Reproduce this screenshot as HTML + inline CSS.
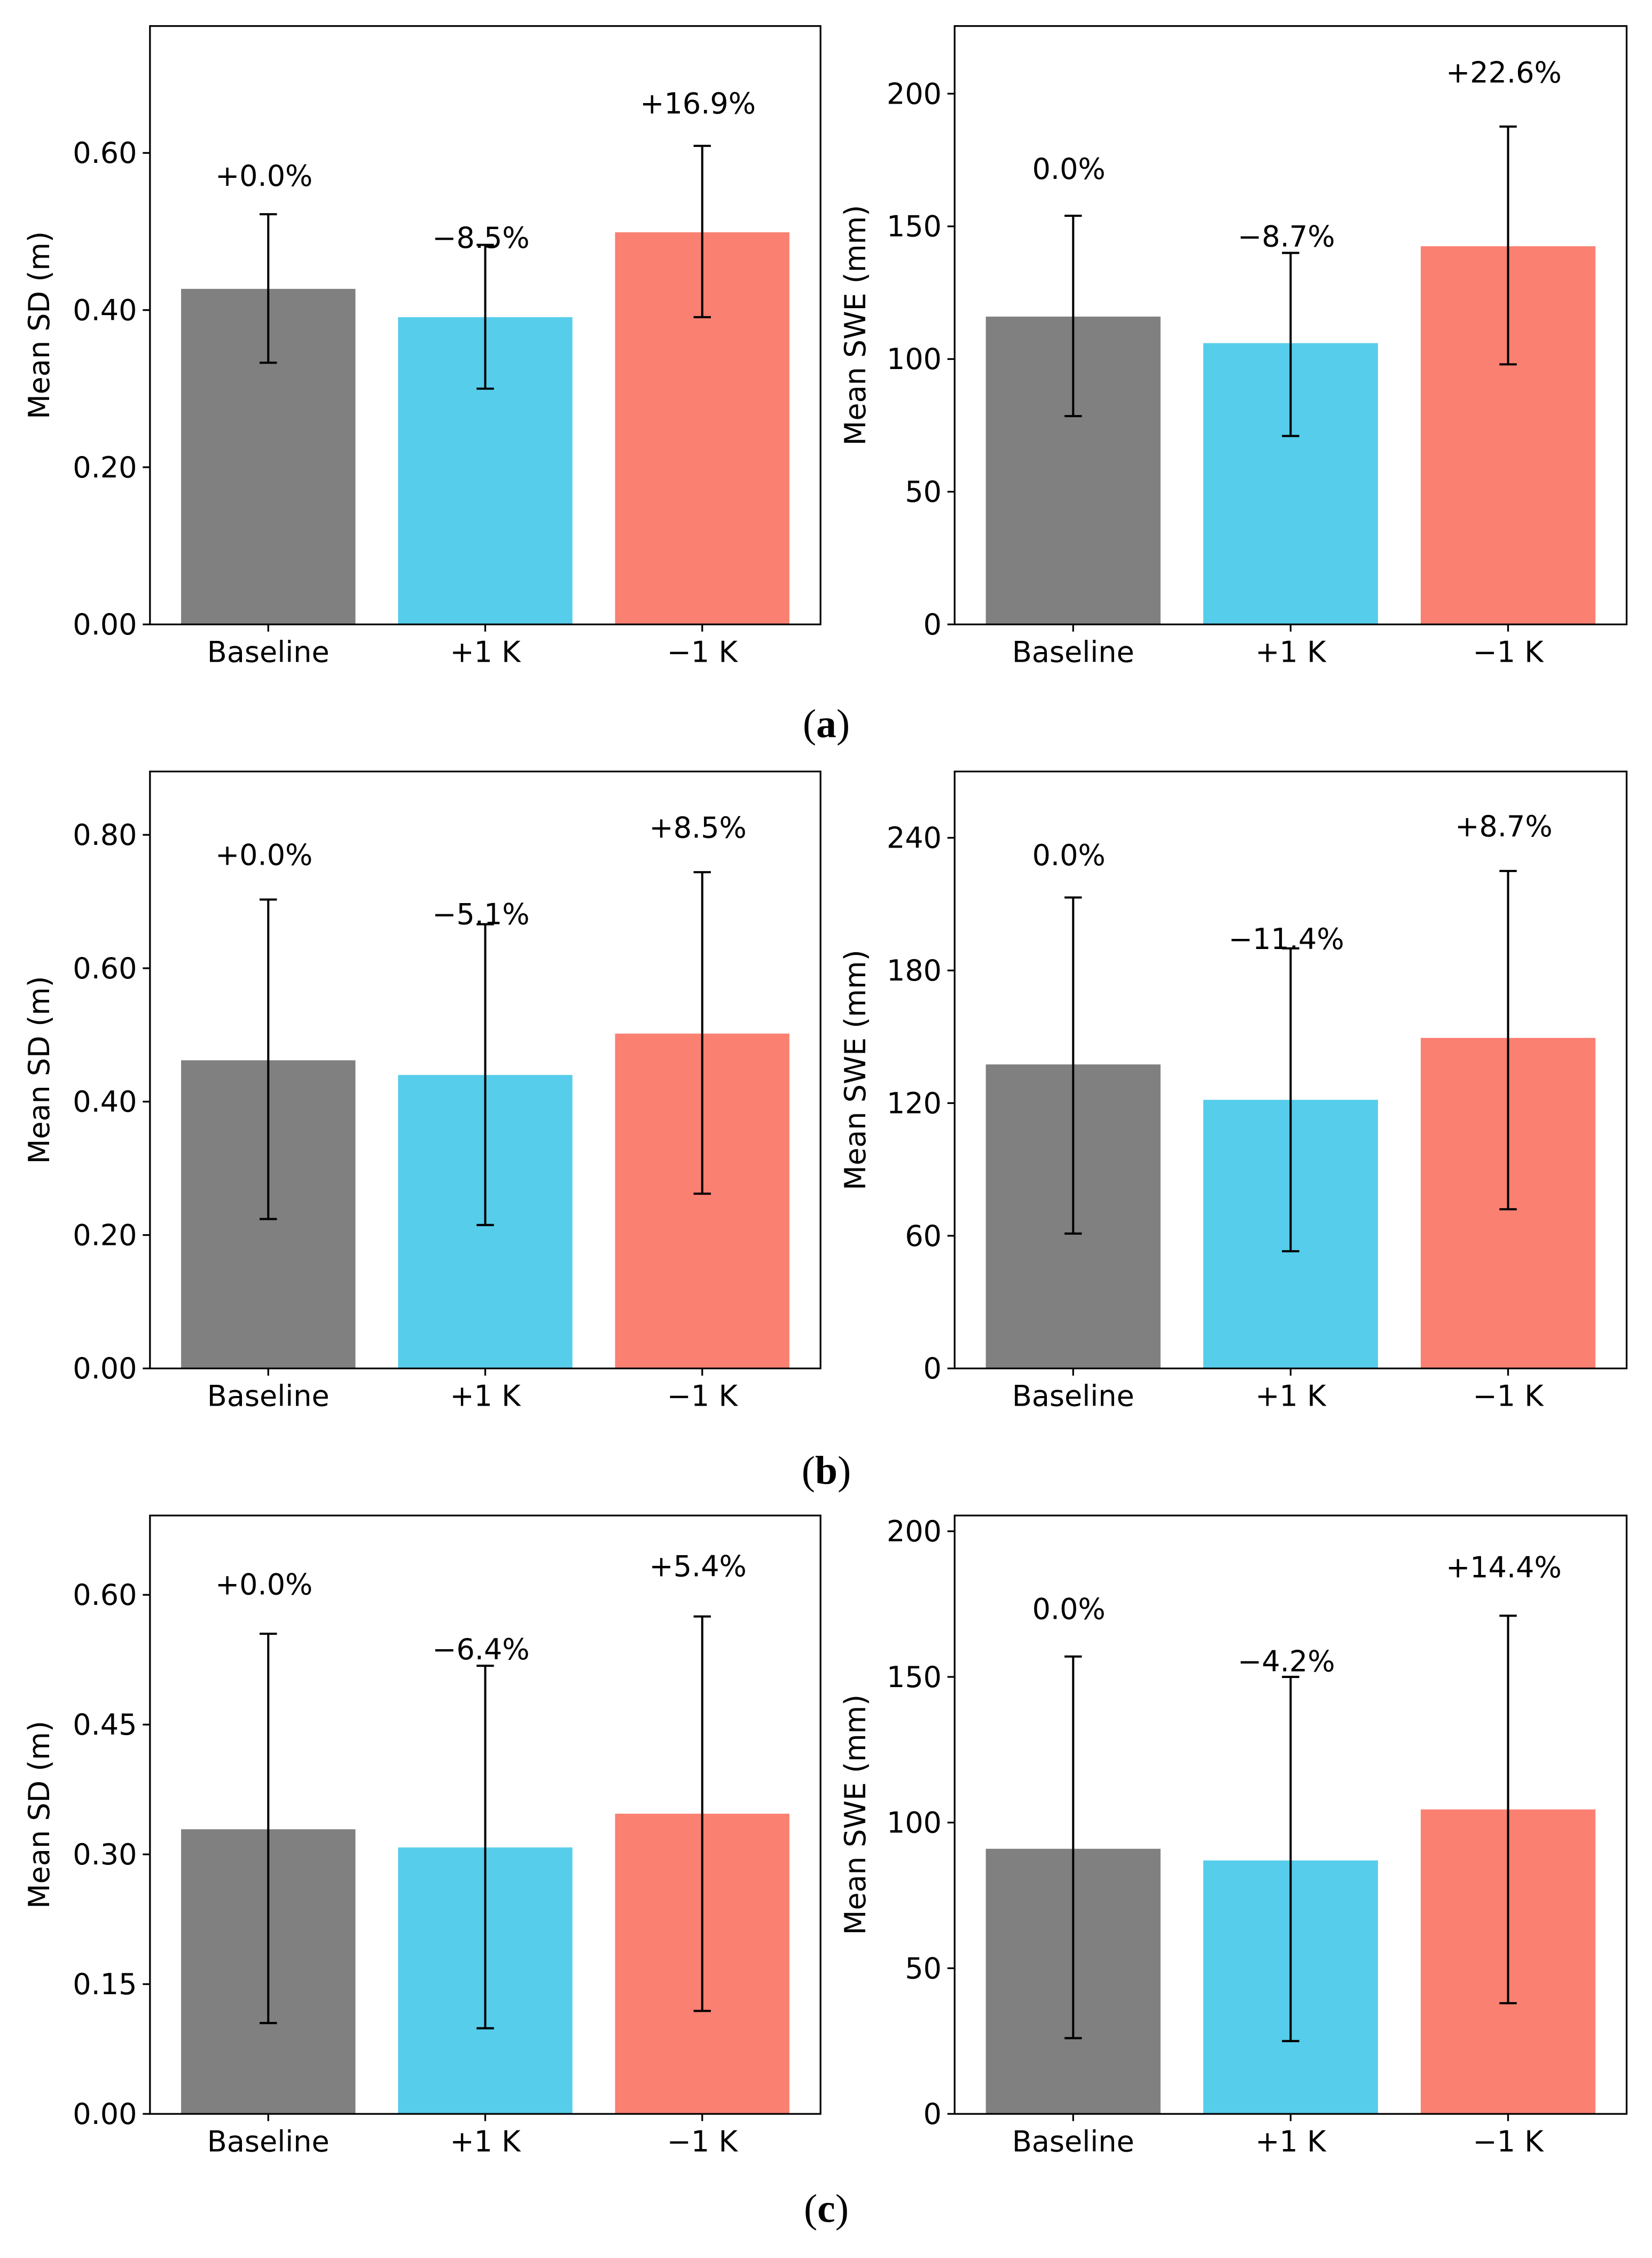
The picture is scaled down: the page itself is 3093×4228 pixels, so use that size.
<!DOCTYPE html>
<html><head><meta charset="utf-8"><style>
html,body{margin:0;padding:0;background:#fff}
svg{display:block}
text{font-family:"DejaVu Sans","Liberation Sans",sans-serif;fill:#000}
</style></head><body>
<svg id="fig" xmlns="http://www.w3.org/2000/svg" width="3093" height="4228" viewBox="0 0 1145.6 1565.9"></svg>
<script>
const categories = ["Baseline", "+1 K", "\u22121 K"];
const colors = ["#808080", "#56cdea", "#fa8072"];
// panel (a)
const aSdMean = [0.427, 0.391, 0.499];
const aSdLo = [0.333, 0.300, 0.391];
const aSdHi = [0.522, 0.483, 0.609];
const aSdLabels = ["+0.0%", "\u22128.5%", "+16.9%"];
const aSdLabelY = [0.571, 0.492, 0.663];
const aSdTicks = [0, 0.2, 0.4, 0.6];
const aSweMean = [116, 106, 142.5];
const aSweLo = [78.5, 71, 98];
const aSweHi = [154, 140, 187.6];
const aSweLabels = ["0.0%", "\u22128.7%", "+22.6%"];
const aSweLabelY = [171.7, 146.2, 208];
const aSweTicks = [0, 50, 100, 150, 200];
// panel (b)
const bSdMean = [0.462, 0.440, 0.502];
const bSdLo = [0.224, 0.215, 0.262];
const bSdHi = [0.703, 0.666, 0.744];
const bSdLabels = ["+0.0%", "\u22125.1%", "+8.5%"];
const bSdLabelY = [0.770, 0.681, 0.811];
const bSdTicks = [0, 0.2, 0.4, 0.6, 0.8];
const bSweMean = [137.5, 121.5, 149.5];
const bSweLo = [61, 53, 72];
const bSweHi = [213, 190, 225];
const bSweLabels = ["0.0%", "\u221211.4%", "+8.7%"];
const bSweLabelY = [232.2, 194.3, 245.2];
const bSweTicks = [0, 60, 120, 180, 240];
// panel (c)
const cSdMean = [0.329, 0.308, 0.347];
const cSdLo = [0.105, 0.099, 0.119];
const cSdHi = [0.555, 0.518, 0.575];
const cSdLabels = ["+0.0%", "\u22126.4%", "+5.4%"];
const cSdLabelY = [0.612, 0.537, 0.633];
const cSdTicks = [0, 0.15, 0.3, 0.45, 0.6];
const cSweMean = [91, 87, 104.5];
const cSweLo = [26, 25, 38];
const cSweHi = [157, 150, 171];
const cSweLabels = ["0.0%", "\u22124.2%", "+14.4%"];
const cSweLabelY = [173.3, 155.4, 187.6];
const cSweTicks = [0, 50, 100, 150, 200];

const NS = "http://www.w3.org/2000/svg";
const fig = document.getElementById("fig");
function el(tag, attrs, parent) {
  const e = document.createElementNS(NS, tag);
  for (const k in attrs) e.setAttribute(k, attrs[k]);
  (parent || fig).appendChild(e);
  return e;
}
function panel(name, x0, y0, w, h, ymax, mean, lo, hi, labels, labelY, ticks, dec, ylabel) {
  const g = el("g", {});
  
  
  const yS = v => y0 + h - (v / ymax) * h;
  const xS = i => x0 + w / 2 + (i - 1) * (w * 0.3236);
  const bw = w * 0.26;
  for (let i = 0; i < categories.length; i++) {
    const cx = xS(i);
    const b = el("rect", {x: cx - bw / 2, y: yS(mean[i]), width: bw, height: yS(0) - yS(mean[i]), fill: colors[i]}, g);
    
    
    const eb = el("g", {stroke: "#000", "stroke-width": 1.5}, g);
    
    
    el("line", {x1: cx, x2: cx, y1: yS(lo[i]), y2: yS(hi[i])}, eb);
    el("line", {x1: cx - 6, x2: cx + 6, y1: yS(lo[i]), y2: yS(lo[i])}, eb);
    el("line", {x1: cx - 6, x2: cx + 6, y1: yS(hi[i]), y2: yS(hi[i])}, eb);
    const t = el("text", {x: cx - 3, y: yS(labelY[i]) + 7, "text-anchor": "middle", "font-size": 20}, g);
    t.textContent = labels[i];
    
    
    el("line", {x1: cx, x2: cx, y1: y0 + h, y2: y0 + h + 5, stroke: "#000", "stroke-width": 1.2}, g);
    const xt = el("text", {x: cx, y: y0 + h + 26, "text-anchor": "middle", "font-size": 20}, g);
    xt.textContent = categories[i];
    
    
  }
  for (const v of ticks) {
    const y = yS(v);
    el("line", {x1: x0 - 5, x2: x0, y1: y, y2: y, stroke: "#000", "stroke-width": 1.2}, g);
    const yt = el("text", {x: x0 - 9, y: y + 7, "text-anchor": "end", "font-size": 20}, g);
    yt.textContent = v.toFixed(dec);
    
    
  }
  const fr = el("rect", {x: x0, y: y0, width: w, height: h, fill: "none", stroke: "#000", "stroke-width": 1.2}, g);
  
  
  const cy = y0 + h / 2;
  const lx = x0 - (dec === 0 ? 62 : 70);
  const yl = el("text", {x: lx, y: cy, "text-anchor": "middle", "font-size": 20, transform: `rotate(-90 ${lx} ${cy})`}, g);
  yl.textContent = ylabel;
  
  
}
const L = 104, R = 662, W = 465, H = 415;
panel("panel-a-sd", L, 18, W, H, 0.7615, aSdMean, aSdLo, aSdHi, aSdLabels, aSdLabelY, aSdTicks, 2, "Mean SD (m)");
panel("panel-a-swe", R, 18, 466, H, 225.5, aSweMean, aSweLo, aSweHi, aSweLabels, aSweLabelY, aSweTicks, 0, "Mean SWE (mm)");
panel("panel-b-sd", L, 535, W, 414, 0.895, bSdMean, bSdLo, bSdHi, bSdLabels, bSdLabelY, bSdTicks, 2, "Mean SD (m)");
panel("panel-b-swe", R, 535, 466, 414, 270, bSweMean, bSweLo, bSweHi, bSweLabels, bSweLabelY, bSweTicks, 0, "Mean SWE (mm)");
panel("panel-c-sd", L, 1051, W, H, 0.6917, cSdMean, cSdLo, cSdHi, cSdLabels, cSdLabelY, cSdTicks, 2, "Mean SD (m)");
panel("panel-c-swe", R, 1051, 466, H, 205.4, cSweMean, cSweLo, cSweHi, cSweLabels, cSweLabelY, cSweTicks, 0, "Mean SWE (mm)");
const caps = [["(a)", "a", 511], ["(b)", "b", 1029], ["(c)", "c", 1541]];
for (const c of caps) {
  const t = el("text", {x: 573, y: c[2], "text-anchor": "middle", "font-size": 28, style: "font-family:'Liberation Serif',serif"});
  t.innerHTML = '(<tspan font-weight="bold">' + c[1] + '</tspan>)';
  
  
}
</script>
</body></html>
